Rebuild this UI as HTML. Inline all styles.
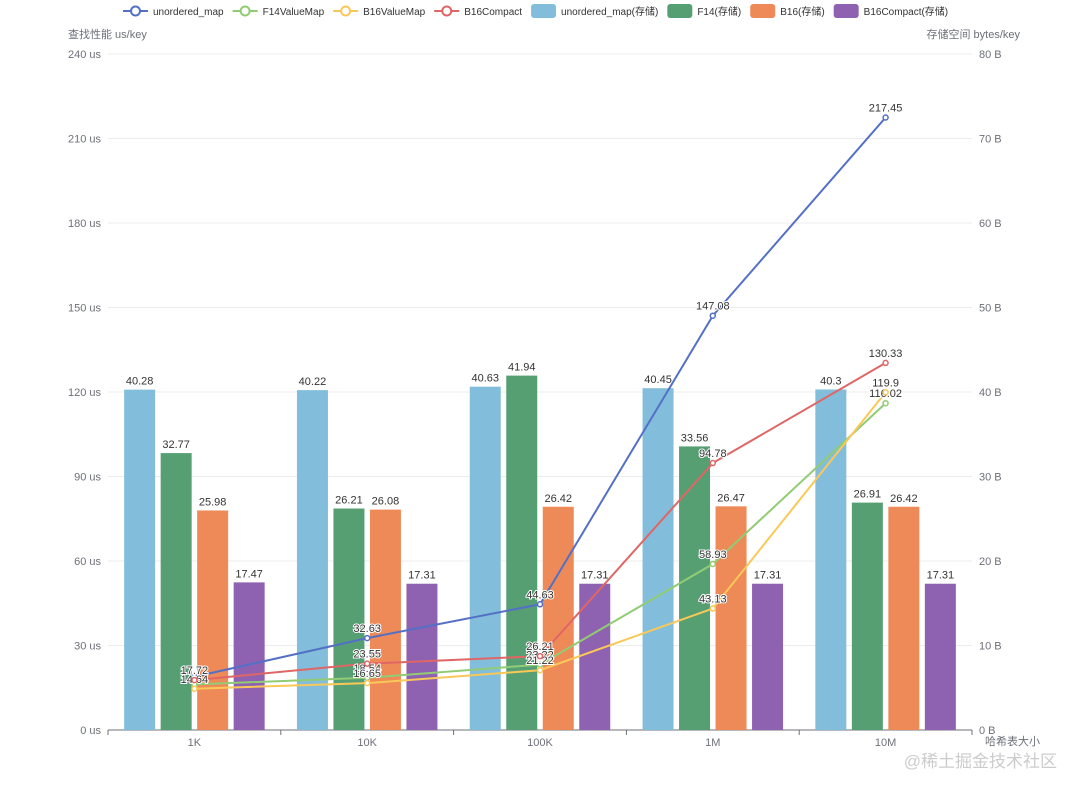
<!DOCTYPE html>
<html><head><meta charset="utf-8"><style>
body{margin:0;background:#fff;width:1080px;height:792px;overflow:hidden;font-family:"Liberation Sans","Noto Sans CJK SC",sans-serif}
</style></head><body>
<svg id="c" width="1080" height="792" style="position:absolute;left:0;top:0"></svg>
<script>
const categories=["1K","10K","100K","1M","10M"];
const barNames=["unordered_map(存储)","F14(存储)","B16(存储)","B16Compact(存储)"];
const barColors=["#82bedb","#569f73","#ee8a57","#8f62b1"];
const barUM=[40.28,40.22,40.63,40.45,40.3];
const barF14=[32.77,26.21,41.94,33.56,26.91];
const barB16=[25.98,26.08,26.42,26.47,26.42];
const barB16C=[17.47,17.31,17.31,17.31,17.31];
const lineNames=["unordered_map","F14ValueMap","B16ValueMap","B16Compact"];
const lineColors=["#5470c6","#91cc75","#fac858","#e06666"];
const lineUM=[18.9,32.63,44.63,147.08,217.45];
const lineF14=[16.2,18.54,23.22,58.93,116.02];
const lineB16=[14.64,16.65,21.22,43.13,119.9];
const lineB16C=[17.72,23.55,26.21,94.78,130.33];
const leftTicks=[0,30,60,90,120,150,180,210,240];
const rightTicks=[0,10,20,30,40,50,60,70,80];

const S=document.getElementById('c'),NS="http://www.w3.org/2000/svg";
const X0=108,X1=972,Y0=730,Y1=54;
const band=(X1-X0)/categories.length;
const yL=v=>Y0-(v/240)*(Y0-Y1);
const yR=v=>Y0-(v/80)*(Y0-Y1);
const xC=i=>X0+band*(i+0.5);
function mk(t,a,txt){const e=document.createElementNS(NS,t);for(const k in a)e.setAttribute(k,a[k]);if(txt!=null)e.textContent=txt;S.appendChild(e);return e;}
leftTicks.forEach((v,i)=>{
  const g=mk('line',{x1:X0,x2:X1,y1:yL(v),y2:yL(v),stroke:i?'#ececec':'#6e7079','stroke-width':1});
  
  
  const t=mk('text',{x:101,y:yL(v)+4,'text-anchor':'end','font-size':11,fill:'#6e7079'},v+' us');
  
  
});
rightTicks.forEach(v=>{
  const t=mk('text',{x:979,y:yR(v)+4,'font-size':11,fill:'#6e7079'},v+' B');
  
  
});
categories.forEach((c,i)=>{
  const t=mk('text',{x:xC(i),y:746,'text-anchor':'middle','font-size':11,fill:'#6e7079'},c);
  
  
  const tk=mk('line',{x1:X0+band*i,x2:X0+band*i,y1:Y0,y2:Y0+5,stroke:'#6e7079'});
  
  
});
mk('line',{x1:X1,x2:X1,y1:Y0,y2:Y0+5,stroke:'#6e7079'});
let t;
t=mk('text',{x:68,y:38,'font-size':11,fill:'#6e7079'},'查找性能 us/key');
t=mk('text',{x:1020,y:38,'font-size':11,fill:'#6e7079','text-anchor':'end'},'存储空间 bytes/key');
t=mk('text',{x:985,y:745,'font-size':11,fill:'#6e7079'},'哈希表大小');
const barSeries=[barUM,barF14,barB16,barB16C];
const bw=31,gap=5.5,grp=4*bw+3*gap;
barSeries.forEach((s,k)=>s.forEach((v,i)=>{
  const x=xC(i)-grp/2+k*(bw+gap);
  const r=mk('rect',{x:x,y:yR(v),width:bw,height:Y0-yR(v),fill:barColors[k]});
  
  
  const l=mk('text',{x:x+bw/2,y:yR(v)-5,'text-anchor':'middle','font-size':11,fill:'#333'},v);
  
  
}));
const lineSeries=[lineUM,lineF14,lineB16,lineB16C];
const hidden={"0-0":1,"1-0":1};
lineSeries.forEach((s,k)=>{
  const p=mk('polyline',{points:s.map((v,i)=>xC(i)+','+yL(v)).join(' '),fill:'none',stroke:lineColors[k],'stroke-width':2});
  
  
});
lineSeries.forEach((s,k)=>s.forEach((v,i)=>{
  const c=mk('circle',{cx:xC(i),cy:yL(v),r:2.5,fill:'#fff',stroke:lineColors[k],'stroke-width':1.5});
  
  
  if(!hidden[k+'-'+i]){
    const l=mk('text',{x:xC(i),y:yL(v)-6,'text-anchor':'middle','font-size':11,fill:'#333',stroke:'#fff','stroke-width':2,'paint-order':'stroke'},v);
    
    
  }
}));
let lx=123;
lineNames.forEach((n,k)=>{
  const g=mk('line',{x1:lx,x2:lx+25,y1:11,y2:11,stroke:lineColors[k],'stroke-width':2});
  
  
  mk('circle',{cx:lx+12.5,cy:11,r:4.5,fill:'#fff',stroke:lineColors[k],'stroke-width':2});
  const tt=mk('text',{x:lx+30,y:15,'font-size':10,fill:'#333'},n);
  
  
  lx+=30+tt.getComputedTextLength()+9;
});
barNames.forEach((n,k)=>{
  const r=mk('rect',{x:lx,y:4,width:25,height:14,rx:3,fill:barColors[k]});
  
  
  const tt=mk('text',{x:lx+30,y:15,'font-size':10,fill:'#333'},n);
  
  
  lx+=30+tt.getComputedTextLength()+9;
});
t=mk('text',{x:1057,y:767,'font-size':17,fill:'#ccc','text-anchor':'end'},'@稀土掘金技术社区');
</script>
</body></html>
